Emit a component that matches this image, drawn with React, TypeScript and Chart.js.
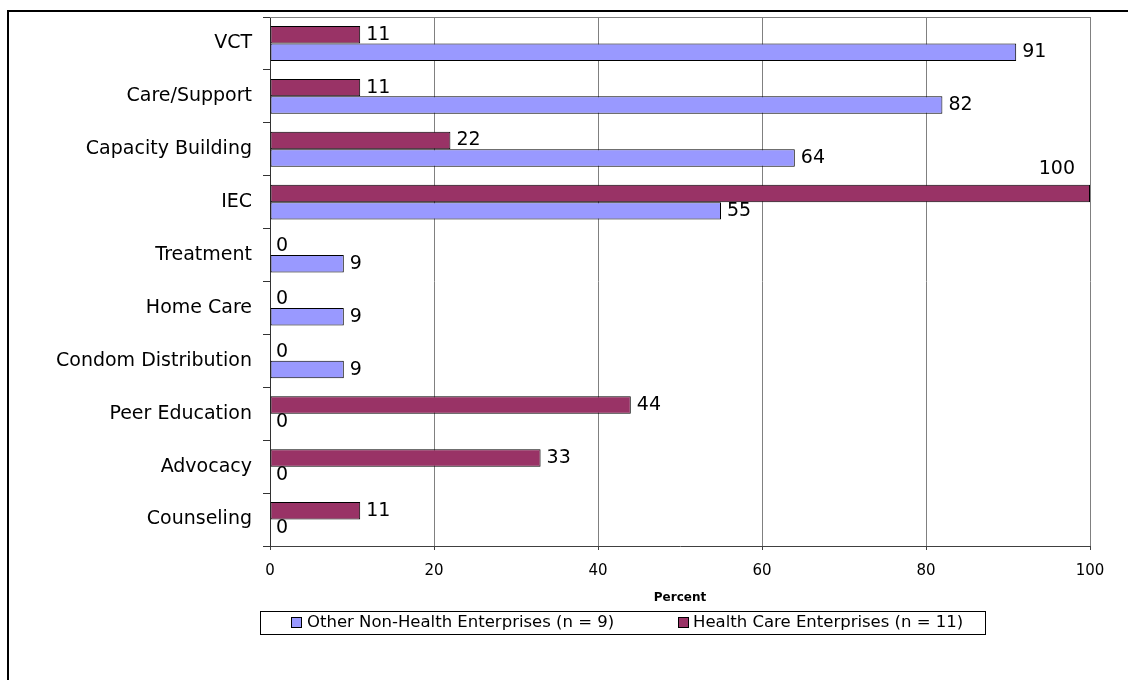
import React, { useEffect, useRef } from "react";
import { Chart, registerables } from "chart.js";

Chart.register(...registerables);

const categories = [
  "VCT",
  "Care/Support",
  "Capacity Building",
  "IEC",
  "Treatment",
  "Home Care",
  "Condom Distribution",
  "Peer Education",
  "Advocacy",
  "Counseling",
];
const otherNonHealth = [91, 82, 64, 55, 9, 9, 9, 0, 0, 0];
const healthCare = [11, 11, 22, 100, 0, 0, 0, 44, 33, 11];
const otherLabel = "Other Non-Health Enterprises (n = 9)";
const healthLabel = "Health Care Enterprises (n = 11)";
const xAxisTitle = "Percent";
const xTicks = [0, 20, 40, 60, 80, 100];

const FONT = "DejaVu Sans";
const OTHER_COLOR = "#9999FF";
const HEALTH_COLOR = "#993366";

const decorPlugin = {
  id: "decor",
  beforeDraw(chart: any) {
    const { ctx } = chart;
    ctx.save();
    ctx.fillStyle = "#ffffff";
    ctx.fillRect(0, 0, chart.width, chart.height);
    ctx.strokeStyle = "#000000";
    ctx.lineWidth = 2;
    ctx.strokeRect(8, 11, 3000, 3000);
    ctx.restore();
  },
  afterDraw(chart: any) {
    const { ctx, chartArea } = chart;
    ctx.save();
    ctx.strokeStyle = "#808080";
    ctx.lineWidth = 1;
    ctx.beginPath();
    ctx.moveTo(chartArea.left, Math.round(chartArea.top) + 0.5);
    ctx.lineTo(chartArea.right, Math.round(chartArea.top) + 0.5);
    ctx.stroke();

    ctx.strokeStyle = "#000000";
    ctx.lineWidth = 1;
    ctx.strokeRect(260.5, 611.5, 725, 23);
    const items = [
      { color: OTHER_COLOR, text: otherLabel, bx: 291, tx: 307 },
      { color: HEALTH_COLOR, text: healthLabel, bx: 678, tx: 693 },
    ];
    ctx.font = `16.5px "${FONT}"`;
    ctx.textBaseline = "middle";
    ctx.textAlign = "left";
    for (const it of items) {
      ctx.fillStyle = it.color;
      ctx.fillRect(it.bx, 617, 11, 11);
      ctx.strokeStyle = "#000000";
      ctx.strokeRect(it.bx + 0.5, 617.5, 10, 10);
      ctx.fillStyle = "#000000";
      ctx.fillText(it.text, it.tx, 623);
    }
    ctx.restore();
  },
  afterDatasetsDraw(chart: any) {
    const { ctx, chartArea } = chart;
    ctx.save();
    ctx.font = `19px "${FONT}"`;
    ctx.fillStyle = "#000000";
    ctx.textBaseline = "middle";
    chart.data.datasets.forEach((ds: any, di: number) => {
      const meta = chart.getDatasetMeta(di);
      meta.data.forEach((el: any, i: number) => {
        const txt = String(ds.data[i]);
        const w = ctx.measureText(txt).width;
        if (el.x + 6 + w > chartArea.right + 5) {
          ctx.textAlign = "right";
          ctx.fillText(txt, el.x - 15, el.y - el.height / 2 - 16);
        } else {
          ctx.textAlign = "left";
          ctx.fillText(txt, el.x + 6, el.y);
        }
      });
    });
    ctx.restore();
  },
};

export default function App() {
  const canvasRef = useRef<HTMLCanvasElement | null>(null);

  useEffect(() => {
    if (!canvasRef.current) return;
    Chart.defaults.font.family = FONT;
    const barStyle = {
      borderColor: "#000000",
      borderWidth: 1,
      borderSkipped: false,
      categoryPercentage: 0.66,
      barPercentage: 1,
    };
    const chart = new Chart(canvasRef.current, {
      type: "bar",
      data: {
        labels: categories,
        datasets: [
          { label: healthLabel, data: healthCare, backgroundColor: HEALTH_COLOR, ...barStyle },
          { label: otherLabel, data: otherNonHealth, backgroundColor: OTHER_COLOR, ...barStyle },
        ],
      },
      options: {
        indexAxis: "y",
        animation: false,
        responsive: false,
        devicePixelRatio: 1,
        layout: { padding: { left: 0, right: 38, top: 17, bottom: 72 } },
        plugins: {
          legend: { display: false },
          tooltip: { enabled: false },
        },
        scales: {
          x: {
            min: 0,
            max: 100,
            afterBuildTicks: (scale: any) => {
              scale.ticks = xTicks.map((v) => ({ value: v }));
            },
            afterFit: (scale: any) => {
              scale.height = 62;
              scale.paddingLeft = 0;
              scale.paddingRight = 0;
            },
            ticks: {
              color: "#000000",
              font: { size: 15, family: FONT },
              padding: 12,
            },
            grid: {
              color: "#808080",
              tickLength: 4,
              tickColor: "#404040",
            },
            border: { color: "#404040", width: 1 },
            title: {
              display: true,
              text: xAxisTitle,
              color: "#000000",
              font: { size: 12, weight: "bold", family: FONT },
              padding: { top: 0, bottom: 3 },
            },
          },
          y: {
            afterFit: (scale: any) => {
              scale.width = 270;
              scale.paddingTop = 0;
              scale.paddingBottom = 0;
            },
            ticks: {
              color: "#000000",
              font: { size: 19, family: FONT },
              padding: 11,
            },
            grid: {
              drawOnChartArea: false,
              offset: true,
              tickLength: 7,
              color: "#333333",
            },
            border: { color: "#333333", width: 1 },
          },
        },
      },
      plugins: [decorPlugin],
    } as any);
    return () => chart.destroy();
  }, []);

  return (
    <div style={{ position: "fixed", left: 0, top: 0, width: 1128, height: 680, background: "#fff" }}>
      <canvas ref={canvasRef} width={1128} height={680} style={{ display: "block" }} />
    </div>
  );
}
